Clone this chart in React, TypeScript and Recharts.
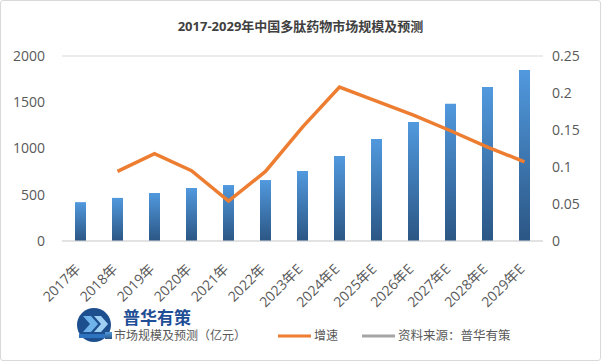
import React from 'react';
import { ComposedChart, Bar, Line, XAxis, YAxis, CartesianGrid } from 'recharts';

// chart values
const years = [
  '2017年', '2018年', '2019年', '2020年', '2021年', '2022年',
  '2023年E', '2024年E', '2025年E', '2026年E', '2027年E', '2028年E', '2029年E',
];
const marketSize = [420, 466, 519, 573, 605, 659, 757, 919, 1103, 1286, 1485, 1665, 1849];
const growthRate = [null, 0.094, 0.118, 0.095, 0.054, 0.094, 0.154, 0.208, 0.189, 0.17, 0.149, 0.127, 0.107];
const leftTicks = [0, 500, 1000, 1500, 2000];
const rightTicks = [0, 0.05, 0.1, 0.15, 0.2, 0.25];

const title = '2017-2029年中国多肽药物市场规模及预测';
const sizeLabel = '市场规模及预测（亿元）';
const growthLabel = '增速';
const sourceLabel = '资料来源：普华有策';

const data = years.map((name, i) => ({
  name,
  size: marketSize[i],
  growth: growthRate[i],
}));

const FONT = '"Open Sans", "Noto Sans CJK SC", sans-serif';
const TEXT = '#595959';

const XTick = (props: any) => {
  const { x, payload } = props;
  const tx = x + 1;
  const ty = 270;
  return (
    <text
      x={tx}
      y={ty}
      textAnchor="end"
      transform={`rotate(-45, ${tx}, ${ty})`}
      fill={TEXT}
      fontSize={14}
      fontFamily={FONT}
    >
      {payload.value}
    </text>
  );
};

const LegendAndLogo = () => (
  <svg width={601} height={361} style={{ position: 'absolute', left: 0, top: 0, pointerEvents: 'none' }}>
    <defs>
      <linearGradient id="swatch" x1="0" y1="0" x2="0" y2="1">
        <stop offset="0%" stopColor="#5199de" />
        <stop offset="100%" stopColor="#2b5684" />
      </linearGradient>
    </defs>
    {/* watermark logo */}
    <circle cx={93} cy={324} r={17} fill="#1d4f8f" />
    <path d="M82 315 L90 315 L97 323 L90 331 L82 331 L89 323 Z" fill="#6fb3ea" />
    <path d="M93 315 L100 315 L107 323 L100 331 L93 331 L100 323 Z" fill="#9fd0f3" />
    <rect x={78} y={333} width={32} height={4} fill="#2e73c0" />
    <text x={122} y={323} fontSize={17} fontWeight="bold" fill="#1f4f96" fontFamily={FONT}>普华有策</text>
    {/* legend */}
    <rect x={104} y={331} width={7} height={7} fill="url(#swatch)" />
    <text x={113} y={339} fontSize={12} fill={TEXT} fontFamily={FONT}>{sizeLabel}</text>
    <line x1={277} x2={310} y1={335} y2={335} stroke="#ED7D31" strokeWidth={3} />
    <text x={313} y={339} fontSize={12} fill={TEXT} fontFamily={FONT}>{growthLabel}</text>
    <line x1={361} x2={394} y1={335} y2={335} stroke="#A5A5A5" strokeWidth={3} />
    <text x={397} y={339} fontSize={12.5} fill={TEXT} fontFamily={FONT}>{sourceLabel}</text>
  </svg>
);

export default function App() {
  return (
    <div
      style={{
        position: 'absolute',
        left: 0,
        top: 0,
        width: 601,
        height: 361,
        background: '#fff',
        boxSizing: 'border-box',
        border: '1px solid #d9d9d9',
        borderRadius: 3,
        fontFamily: FONT,
      }}
    >
      <div
        style={{
          position: 'absolute',
          top: 15,
          width: '100%',
          textAlign: 'center',
          fontSize: 13,
          fontWeight: 'bold',
          color: '#404040',
        }}
      >
        {title}
      </div>
      <div style={{ position: 'absolute', left: -1, top: -1 }}>
        <ComposedChart width={601} height={361} data={data} margin={{ top: 56, right: 0, bottom: 0, left: 0 }}>
          <defs>
            <linearGradient id="barGrad" x1="0" y1="0" x2="0" y2="1">
              <stop offset="0%" stopColor="#5199de" />
              <stop offset="100%" stopColor="#2b5684" />
            </linearGradient>
          </defs>
          <CartesianGrid stroke="#d9d9d9" vertical={false} />
          <XAxis
            dataKey="name"
            interval={0}
            tick={<XTick />}
            tickLine={false}
            axisLine={{ stroke: '#d9d9d9' }}
            height={120}
          />
          <YAxis
            yAxisId="left"
            width={62}
            domain={[0, 2000]}
            ticks={leftTicks}
            tickLine={false}
            axisLine={false}
            tickMargin={11}
            tick={{ fill: TEXT, fontSize: 14, fontFamily: FONT }}
          />
          <YAxis
            yAxisId="right"
            orientation="right"
            width={58}
            domain={[0, 0.25]}
            ticks={rightTicks}
            tickLine={false}
            axisLine={false}
            tickMargin={3}
            tick={{ fill: TEXT, fontSize: 14, fontFamily: FONT, textAnchor: 'start' }}
          />
          <Bar yAxisId="left" dataKey="size" fill="url(#barGrad)" barSize={11} isAnimationActive={false} />
          <Line
            yAxisId="right"
            type="linear"
            dataKey="growth"
            stroke="#ED7D31"
            strokeWidth={3.5}
            dot={false}
            activeDot={false}
            isAnimationActive={false}
          />
        </ComposedChart>
      </div>
      <LegendAndLogo />
    </div>
  );
}
